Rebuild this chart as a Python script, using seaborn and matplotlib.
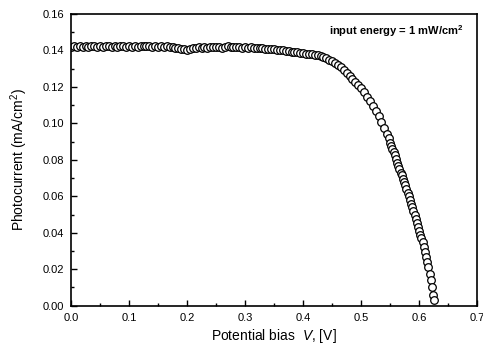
import numpy as np
import pandas as pd
import seaborn as sns
import matplotlib.pyplot as plt
from matplotlib.ticker import MultipleLocator, FormatStrFormatter

# potential bias (V)
bias = [
    0.000, 0.005, 0.010, 0.015, 0.020, 0.025, 0.030, 0.035, 0.040, 0.045,
    0.050, 0.055, 0.060, 0.065, 0.070, 0.075, 0.080, 0.085, 0.090, 0.095,
    0.100, 0.105, 0.110, 0.115, 0.120, 0.125, 0.130, 0.135, 0.140, 0.145,
    0.150, 0.155, 0.160, 0.165, 0.170, 0.175, 0.180, 0.185, 0.190, 0.195,
    0.200, 0.205, 0.210, 0.215, 0.220, 0.225, 0.230, 0.235, 0.240, 0.245,
    0.250, 0.255, 0.260, 0.265, 0.270, 0.275, 0.280, 0.285, 0.290, 0.295,
    0.300, 0.305, 0.310, 0.315, 0.320, 0.325, 0.330, 0.335, 0.340, 0.345,
    0.350, 0.355, 0.360, 0.365, 0.370, 0.375, 0.380, 0.385, 0.390, 0.395,
    0.400, 0.405, 0.410, 0.415, 0.420, 0.425, 0.430, 0.435, 0.440, 0.445,
    0.450, 0.455, 0.460, 0.465, 0.470, 0.475, 0.480, 0.485, 0.490, 0.495,
    0.500, 0.505, 0.510, 0.515, 0.520, 0.525, 0.530, 0.535, 0.540, 0.545,
    0.548, 0.550, 0.552, 0.554, 0.556, 0.558, 0.560, 0.562, 0.564, 0.566, 0.568,
    0.570, 0.572, 0.574, 0.576, 0.578, 0.580, 0.582, 0.584, 0.586, 0.588,
    0.590, 0.592, 0.594, 0.596, 0.598, 0.600, 0.602, 0.604, 0.606, 0.608,
    0.610, 0.612, 0.614, 0.616, 0.618, 0.620, 0.622, 0.624, 0.625,
]

# photocurrent (mA/cm2)
current = [
    0.1418, 0.1422, 0.1420, 0.1424, 0.1421, 0.1425, 0.1420, 0.1423, 0.1426, 0.1421,
    0.1424, 0.1420, 0.1425, 0.1422, 0.1419, 0.1424, 0.1421, 0.1426, 0.1422, 0.1420,
    0.1425, 0.1421, 0.1424, 0.1420, 0.1423, 0.1426, 0.1422, 0.1425, 0.1421, 0.1424,
    0.1420, 0.1423, 0.1419, 0.1422, 0.1418, 0.1420, 0.1415, 0.1412, 0.1409, 0.1406,
    0.1404, 0.1407, 0.1411, 0.1415, 0.1418, 0.1416, 0.1419, 0.1415, 0.1418, 0.1421,
    0.1417, 0.1420, 0.1416, 0.1419, 0.1422, 0.1418, 0.1421, 0.1417, 0.1420, 0.1416,
    0.1418, 0.1414, 0.1417, 0.1413, 0.1415, 0.1411, 0.1413, 0.1409, 0.1410, 0.1406,
    0.1406, 0.1404, 0.1402, 0.1400, 0.1398, 0.1395, 0.1393, 0.1391, 0.1389, 0.1387,
    0.1385, 0.1383, 0.1380, 0.1378, 0.1376, 0.1374, 0.1370, 0.1364, 0.1356, 0.1350,
    0.1342, 0.1332, 0.1321, 0.1308, 0.1293, 0.1277, 0.1260, 0.1243, 0.1226, 0.1210,
    0.1192, 0.1170, 0.1147, 0.1122, 0.1097, 0.1070, 0.1040, 0.1008, 0.0975, 0.0940,
    0.0918, 0.0895, 0.0875, 0.0858, 0.0842, 0.0825, 0.0805, 0.0785, 0.0765, 0.0748, 0.0730,
    0.0715, 0.0697, 0.0678, 0.0660, 0.0640, 0.0620, 0.0600, 0.0580, 0.0560, 0.0540,
    0.0520, 0.0500, 0.0478, 0.0455, 0.0432, 0.0410, 0.0390, 0.0370, 0.0348, 0.0322,
    0.0295, 0.0268, 0.0240, 0.0210, 0.0175, 0.0140, 0.0100, 0.0060, 0.0030,
]

df = pd.DataFrame({"bias": bias, "current": current})

sns.set_theme(style="ticks")
plt.rcParams["font.family"] = ["Liberation Sans", "DejaVu Sans"]
plt.rcParams["mathtext.fontset"] = "custom"
plt.rcParams["mathtext.rm"] = "Liberation Sans"
plt.rcParams["mathtext.it"] = "Liberation Sans:italic"
plt.rcParams["mathtext.bf"] = "Liberation Sans:bold"
plt.rcParams["text.color"] = "black"
plt.rcParams["axes.labelcolor"] = "black"

fig = plt.figure(figsize=(4.83, 3.49), dpi=100)
ax = fig.add_axes([0.147, 0.124, 0.841, 0.836])

sns.scatterplot(data=df, x="bias", y="current", marker="o", s=30,
                facecolor="white", edgecolor="black", linewidth=0.9, ax=ax)

ax.set_xlim(0.0, 0.7)
ax.set_ylim(0.0, 0.16)
ax.xaxis.set_major_locator(MultipleLocator(0.1))
ax.xaxis.set_minor_locator(MultipleLocator(0.05))
ax.yaxis.set_major_locator(MultipleLocator(0.02))
ax.yaxis.set_minor_locator(MultipleLocator(0.01))
ax.xaxis.set_major_formatter(FormatStrFormatter("%.1f"))
ax.yaxis.set_major_formatter(FormatStrFormatter("%.2f"))
ax.tick_params(which="both", direction="in", top=False, right=False,
               labelsize=8, colors="black", labelcolor="black", width=1.0)
ax.tick_params(which="major", length=4, pad=5)
ax.tick_params(which="minor", length=2.5)
for sp in ax.spines.values():
    sp.set_linewidth(1.2)
    sp.set_color("black")

ax.set_xlabel(r"Potential bias  $\mathit{V}$, [V]", fontsize=10, labelpad=3,
              color="black")
ax.set_ylabel(r"Photocurrent (mA/cm$^{2}$)", fontsize=10, labelpad=9,
              color="black")

ax.text(0.965, 0.94, r"input energy = 1 mW/cm$^{\mathbf{2}}$",
        transform=ax.transAxes, ha="right", va="center",
        fontsize=8, fontweight="bold", color="black")

fig.savefig("out.png", dpi=100)
